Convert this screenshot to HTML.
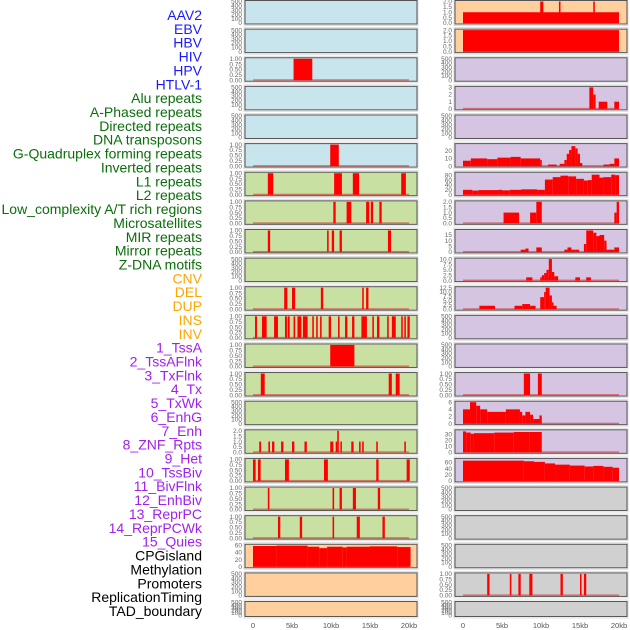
<!DOCTYPE html>
<html><head><meta charset="utf-8"><style>
html,body{margin:0;padding:0;background:#fff;width:630px;height:630px;overflow:hidden}
svg{display:block}
text{font-family:"Liberation Sans",sans-serif}
</style></head><body>
<svg id="chart" width="630" height="630" viewBox="0 0 630 630"></svg>
<script>
const labels=["AAV2","EBV","HBV","HIV","HPV","HTLV-1","Alu repeats","A-Phased repeats","Directed repeats","DNA transposons","G-Quadruplex forming repeats","Inverted repeats","L1 repeats","L2 repeats","Low_complexity A/T rich regions","Microsatellites","MIR repeats","Mirror repeats","Z-DNA motifs","CNV","DEL","DUP","INS","INV","1_TssA","2_TssAFlnk","3_TxFlnk","4_Tx","5_TxWk","6_EnhG","7_Enh","8_ZNF_Rpts","9_Het","10_TssBiv","11_BivFlnk","12_EnhBiv","13_ReprPC","14_ReprPCWk","15_Quies","CPGisland","Methylation","Promoters","ReplicationTiming","TAD_boundary"];
const labelColors=[].concat(Array(6).fill("#1a1aff"),Array(13).fill("#0b6e0b"),Array(5).fill("#ffa500"),Array(15).fill("#a020f0"),Array(5).fill("#000"));
const bgL=["b","b","b","b","b","b","g","g","g","g","g","g","g","g","g","g","g","g","g","o","o","o"];
const bgR=["o","o","p","p","p","p","p","p","p","p","p","p","p","p","p","p","p","y","y","y","y","y"];
const E=["0","100","200","300","400","500"],B=["0.00","0.25","0.50","0.75","1.00"],T2=["0.0","0.5","1.0","1.5","2.0"];
const ticksL=[E,E,B,E,E,B,B,B,B,E,B,B,B,B,E,T2,B,B,B,["0","20","40","60"],E,E];
const ticksR=[T2,T2,E,["0","1","2","3"],E,["0","10","20"],["0","20","40","60","80"],T2,["0","5","10","15"],["0.0","2.5","5.0","7.5","10.0"],["0.0","2.5","5.0","7.5","10.0","12.5"],E,E,B,["0","2","4","6"],["0","10","20","30"],["0","20","40","60"],E,E,E,B,E];
const ymaxL=[500,500,1,500,500,1,1,1,1,500,1,1,1,1,500,2,1,1,1,60,500,500];
const ymaxR=[2,2,500,3,500,28,88,2,19,10,12.5,500,500,1,6,36,70,500,500,500,1,500];
const segsL=[[],[],[[5.2,7.6,1]],[],[],[[9.9,11.0,1]],
[[1.9,2.6,1],[10.4,11.4,1],[12.8,13.6,1],[19.0,19.6,1]],
[[10.3,10.6,1],[12.0,12.6,1],[14.5,14.9,1],[15.1,15.4,1],[16.2,16.5,1]],
[[1.9,2.2,1],[9.5,9.7,1],[10.1,10.4,1],[11.1,11.4,1],[17.3,17.7,1]],
[],
[[4.0,4.4,1],[5.0,5.4,1],[8.7,9.0,1],[14.0,14.2,1],[14.5,14.8,1]],
[[0.26,0.51,1],[1.15,1.75,1],[2.7,3.2,1],[4.1,4.35,1],[4.45,4.7,1],[5.2,5.4,1],[5.7,6.2,1],[6.4,7.0,1],[7.6,7.8,1],[8.1,8.3,1],[8.6,8.8,1],[9.7,10.0,1],[10.9,11.1,1],[11.8,12.1,1],[12.7,13.0,1],[13.9,14.6,1],[15.3,15.5,1],[15.9,16.2,1],[17.2,17.4,1],[17.8,18.3,1],[19.0,19.2,1],[19.4,19.6,1],[19.8,20.1,1]],
[[9.9,13.0,1]],
[[1.0,1.5,1],[17.4,17.8,1],[18.3,18.8,1]],
[],
[[0.8,1.03,1],[1.97,2.18,1],[2.44,2.74,1],[3.6,3.9,1],[5.0,5.3,1],[6.6,6.9,1],[9.9,10.3,1],[10.6,10.8,1],[10.8,11.0,2],[11.2,11.4,1],[12.6,12.9,1],[13.6,13.8,1],[14.0,14.2,1],[15.8,16.0,1],[19.4,19.6,1]],
[[0.0,0.34,1],[0.64,0.98,1],[4.1,4.6,1],[9.1,9.6,1],[15.8,16.1,1],[19.7,20.1,1]],
[[1.9,2.1,1],[10.2,10.4,1],[11.1,11.4,1],[12.8,13.2,1],[16.0,16.3,1]],
[[3.2,3.5,1],[6.0,6.3,1],[10.2,10.4,1],[13.3,13.7,1],[16.6,16.9,1]],
[[0,3,58],[3,7,59],[7,8.5,56],[8.5,9.5,52],[9.5,11.5,56],[11.5,12,54],[12,15,56],[15,18.5,57],[18.5,20.2,55]],
[],[]];
const segsR=[[[0,20,1],[9.9,10.3,2],[12.3,12.5,2],[16.7,16.9,2]],
[[0,20,2]],[],
[[16.2,16.7,3],[16.7,17.0,2],[17.4,18.5,1],[19.4,20.0,1]],[],
[[0,1,7],[1,3.1,10],[3.1,4.4,9],[4.4,6.1,11],[6.1,7.4,12],[7.4,9.9,10],[9.9,10.1,8],[10.9,12.0,2],[12.4,13.0,3],[13.0,13.3,8],[13.3,13.6,16],[13.6,13.9,21],[13.9,14.4,26],[14.4,14.7,23],[14.7,15.0,16],[15.0,15.3,4],[18.0,18.8,2],[18.8,19.4,3],[19.4,20.0,10]],
[[0,1.2,20],[1.2,2,17],[2,4.5,19],[4.5,5,20],[5,6,18],[6,7.5,20],[7.5,9.5,22],[9.5,10.5,20],[10.5,11.5,62],[11.5,12.5,72],[12.5,13.5,78],[13.5,14.5,75],[14.5,15.5,65],[15.5,16,58],[16,16.5,60],[16.5,17.5,82],[17.5,18,70],[18,19,72],[19,19.5,82],[19.5,20,80]],
[[5.2,7.2,1],[8.6,9.4,1],[9.4,10.1,2],[19.4,19.7,1],[19.7,20.0,2]],
[[7.4,8.0,2],[8.0,8.4,3],[9.4,10.1,4],[13.0,13.4,2],[13.4,13.9,4],[13.9,14.4,2],[14.4,14.9,2],[15.5,15.8,7],[15.8,16.7,19],[16.7,17.1,17],[17.1,17.5,14],[17.5,18.1,15],[18.1,18.4,10],[18.4,19.4,2],[19.4,20.0,4]],
[[8.1,8.9,1.5],[9.9,10.1,1.5],[10.1,10.4,2.5],[10.4,10.7,3.5],[10.7,11.0,5],[11.0,11.4,10],[11.4,11.7,4],[11.7,12.2,2],[14.4,15.0,1.5],[15.8,16.4,1.5]],
[[2.1,4.1,2],[6.6,7.6,2],[7.6,8.6,3],[8.6,9.3,2],[9.9,10.4,7],[10.4,10.6,10],[10.6,11.1,12.5],[11.1,11.4,8],[11.4,11.6,4],[11.6,12.0,2]],
[],[],
[[7.8,8.6,1],[9.6,10.1,1]],
[[0,0.9,4],[0.9,1.7,6],[1.7,2.2,5],[2.2,3.1,4],[3.1,5.5,3.3],[5.5,7.3,4],[7.3,7.6,3.3],[7.6,8.0,2.3],[8.0,8.6,3.3],[8.6,9.0,2.5],[9.0,9.8,1.3],[9.8,10.1,2.3]],
[[0,0.4,35],[0.4,1.0,33],[1.0,1.4,31],[1.4,4.0,32],[4.0,6.5,33],[6.5,8.5,34],[8.5,10.1,34]],
[[0,7.8,66],[7.8,9.1,64],[9.1,10.5,62],[10.5,11.8,57],[11.8,13.7,53],[13.7,15.6,50],[15.6,16.7,47],[16.7,18.0,49],[18.0,19.2,46],[19.2,20.0,43]],
[],[],[],
[[3.1,3.4,1],[6.0,6.2,1],[7.1,7.4,1],[8.5,8.9,1],[12.5,12.8,1],[15.0,15.2,1],[15.5,15.8,1]],
[]];
const xTicks=[0,5,10,15,20],xTickLabels=["0","5kb","10kb","15kb","20kb"];

const NS="http://www.w3.org/2000/svg",svg=document.getElementById("chart");
const colors={b:"#c8e4ec",g:"#c8e0a2",o:"#ffd09e",p:"#d5c5e2",y:"#d0d0d0"};
function mk(t,a,p){const e=document.createElementNS(NS,t);for(const k in a)e.setAttribute(k,a[k]);(p||svg).appendChild(e);return e;}
labels.forEach((l,i)=>{const t=mk("text",{x:202,y:20+i*13.86,"text-anchor":"end","font-size":"14",fill:labelColors[i]});t.textContent=l;

});
function drawCol(side,bg,ticks,ymax,segs){
 const px0=side?455:245,pw=172,x0=side?463:253;
 const xs=kb=>x0+kb*7.8;
 for(let i=0;i<22;i++){
  const top=i*28.62,h=i==21?16:24.5;
  const g=mk("g",{});
  
  
  mk("rect",{x:px0-1,y:top-1,width:pw+2,height:h+2,fill:"none",stroke:"#ddd","stroke-width":1},g);
  mk("rect",{x:px0,y:top+0.5,width:pw,height:h-1,fill:colors[bg[i]],stroke:"#555","stroke-width":1},g);
  const yb=top+h-1.5,yt=top+1.5;
  const ys=v=>yb-(v/ymax[i])*(yb-yt);
  ticks[i].forEach(tl=>{const t=mk("text",{x:px0-3,y:ys(parseFloat(tl))+2.2,"text-anchor":"end","font-size":"6.5",fill:"#666"},g);t.textContent=tl;});
  if(segs[i].length){
   mk("rect",{x:xs(0),y:yb-1,width:xs(20)-xs(0),height:1.5,fill:"#d03030",opacity:0.6},g);
  }
  segs[i].forEach(s=>{const r=mk("rect",{x:xs(s[0]),y:ys(s[2]),width:Math.max(1.2,xs(s[1])-xs(s[0])),height:yb-ys(s[2]),fill:"#ff0000"},g);
   
   });
 }
 xTicks.forEach((v,k)=>{const t=mk("text",{x:xs(v),y:628,"text-anchor":"middle","font-size":"7.5",fill:"#555"});t.textContent=xTickLabels[k];
 
 });
}
drawCol(0,bgL,ticksL,ymaxL,segsL);
drawCol(1,bgR,ticksR,ymaxR,segsR);
</script>
</body></html>
